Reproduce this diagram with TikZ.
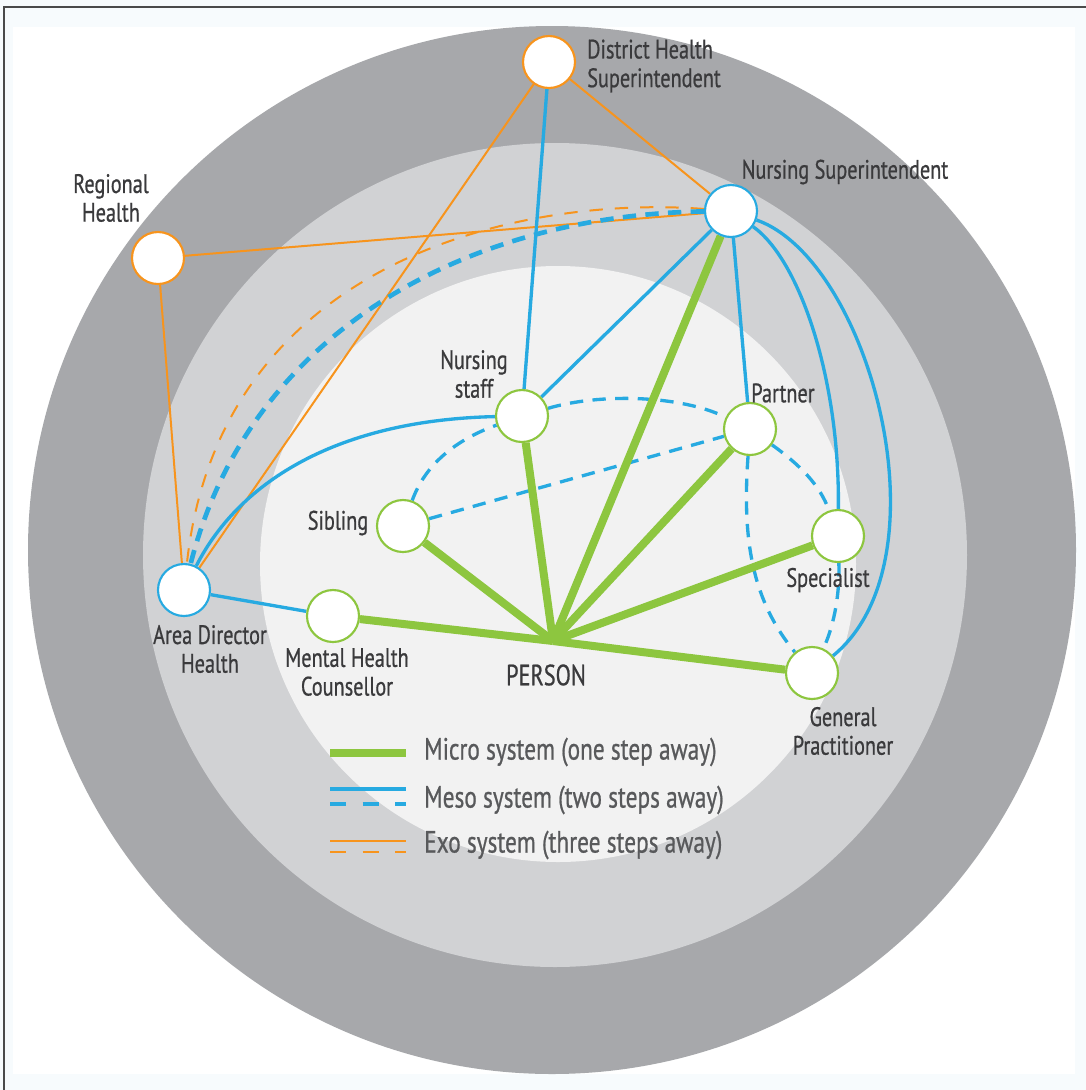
\documentclass[tikz,border=0pt]{standalone}
\usepackage{fontspec}
\setmainfont{PT Sans}[FakeStretch=0.76, FakeBold=0.7]
\usetikzlibrary{positioning}
\definecolor{ringout}{HTML}{A7A8AB}
\definecolor{ringmid}{HTML}{D1D2D4}
\definecolor{ringin}{HTML}{F2F2F2}
\definecolor{microgreen}{HTML}{8DC63F}
\definecolor{mesoblue}{HTML}{27AAE1}
\definecolor{exoorange}{HTML}{F7941D}
\definecolor{txtdark}{HTML}{3A3A3C}
\definecolor{txtlegend}{HTML}{58595B}
\definecolor{pagebg}{HTML}{F7FBFD}
\definecolor{framegray}{HTML}{4A4A4A}
\pgfdeclarelayer{rings}
\pgfdeclarelayer{edges}
\pgfsetlayers{rings,edges,main}

\begin{document}
\begin{tikzpicture}[
    x=0.75pt, y=-0.75pt,
    sysnode/.style={circle, fill=white, line width=1.6pt, minimum size=39pt, inner sep=0pt},
    micronode/.style={sysnode, draw=microgreen},
    mesonode/.style={sysnode, draw=mesoblue},
    exonode/.style={sysnode, draw=exoorange},
    lbl/.style={text=txtdark, font=\fontsize{20}{21.5}\selectfont, align=center, inner sep=0pt},
    legendtext/.style={text=txtlegend, font=\fontsize{23}{24}\selectfont, anchor=west, inner sep=0pt},
    micro/.style={draw=microgreen, line width=6pt},
    meso/.style={draw=mesoblue, line width=2.5pt},
    mesodash/.style={meso, dash pattern=on 10pt off 7pt},
    exo/.style={draw=exoorange, line width=1.5pt},
    exodash/.style={exo, dash pattern=on 10pt off 9pt},
    keydash/.style={dash pattern=on 12pt off 12.5pt}
]
    \useasboundingbox (0,0) rectangle (1086,1090);

    % Background and rings
    \begin{pgfonlayer}{rings}
        \fill[pagebg] (0,0) rectangle (1086,1090);
        \fill[white] (13,27) rectangle (1075,1074);
        \draw[framegray, line width=0.8pt] (4,1090) -- (4,7) -- (1086,7);
        \fill[ringout] (552,550) circle (524);
        \fill[ringmid] (555,555) circle (412);
        \fill[ringin] (558,564) circle (298);
    \end{pgfonlayer}

    % Nodes
    \coordinate (person) at (553,641);
    \node (dhs) [exonode] at (549,62) {};
    \node (regh) [exonode] at (158,258) {};
    \node (nsup) [mesonode] at (731,211) {};
    \node (adh) [mesonode] at (184,590) {};
    \node (nstaff) [micronode] at (522,416) {};
    \node (partner) [micronode] at (750,429) {};
    \node (sibling) [micronode] at (403,526) {};
    \node (spec) [micronode] at (838,536) {};
    \node (gp) [micronode] at (812,673) {};
    \node (mhc) [micronode] at (333,616) {};

    % Labels
    \node (dhslbl) [lbl, align=left, anchor=west] at (587,66) {District Health\\Superintendent};
    \node (reghlbl) [lbl] at (111,198) {Regional\\Health};
    \node (nsuplbl) [lbl] at (845,172) {Nursing Superintendent};
    \node (adhlbl) [lbl] at (210,649) {Area Director\\Health};
    \node (nstafflbl) [lbl] at (474,374) {Nursing\\staff};
    \node (partnerlbl) [lbl] at (783,393) {Partner};
    \node (siblinglbl) [lbl] at (338,523) {Sibling};
    \node (speclbl) [lbl] at (828,580) {Specialist};
    \node (gplbl) [lbl] at (843,731) {General\\Practitioner};
    \node (mhclbl) [lbl] at (347,672) {Mental Health\\Counsellor};
    \node (personlbl) [lbl, font=\fontsize{22}{24}\selectfont] at (546,675) {PERSON};

    % Paths
    \begin{pgfonlayer}{edges}
        % exo system
        \path [exo] (dhs) -- (nsup);
        \path [exo] (dhs) -- (adh);
        \path [exo] (regh) -- (nsup);
        \path [exo] (regh) -- (adh);
        \path [exodash] (nsup) .. controls (520,195) and (220,260) .. (adh);
        % meso system
        \path [meso] (dhs) -- (nstaff);
        \path [meso] (nsup) -- (nstaff);
        \path [meso] (nsup) -- (partner);
        \path [meso] (adh) -- (mhc);
        \path [meso] (nsup) .. controls (800,260) and (840,380) .. (spec);
        \path [meso] (nsup) .. controls (870,260) and (950,560) .. (gp);
        \path [meso] (adh) .. controls (240,480) and (340,420) .. (nstaff);
        \path [mesodash, line width=3.5pt] (nsup) .. controls (470,215) and (250,330) .. (adh);
        \path [mesodash] (nstaff) .. controls (600,393) and (680,395) .. (partner);
        \path [mesodash] (sibling) .. controls (425,465) and (455,440) .. (nstaff);
        \path [mesodash] (sibling) -- (partner);
        \path [mesodash] (partner) .. controls (800,465) and (820,485) .. (spec);
        \path [mesodash] (partner) .. controls (742,540) and (752,600) .. (gp);
        \path [mesodash] (spec) .. controls (840,600) and (832,630) .. (gp);
        % micro system
        \foreach \other in {nstaff, nsup, partner, sibling, spec, gp, mhc}
            \path [micro] (person) -- (\other);
    \end{pgfonlayer}

    % Legend
    \coordinate (microa) at (330,753);
    \coordinate (microb) at (406,753);
    \coordinate (mesoa) at (330,789);
    \coordinate (mesob) at (406,789);
    \coordinate (mesoc) at (330,804);
    \coordinate (mesod) at (406,804);
    \coordinate (exoa) at (330,841);
    \coordinate (exob) at (406,841);
    \coordinate (exoc) at (330,852);
    \coordinate (exod) at (406,852);
    \path [micro] (microa) -- (microb);
    \path [meso] (mesoa) -- (mesob);
    \path [meso, keydash] (mesoc) -- (mesod);
    \path [exo] (exoa) -- (exob);
    \path [exo, keydash] (exoc) -- (exod);
    \node (microkey) [legendtext] at (424,752) {Micro system (one step away)};
    \node (mesokey) [legendtext] at (424,800) {Meso system (two steps away)};
    \node (exokey) [legendtext] at (424,845) {Exo system (three steps away)};
\end{tikzpicture}
\end{document}
